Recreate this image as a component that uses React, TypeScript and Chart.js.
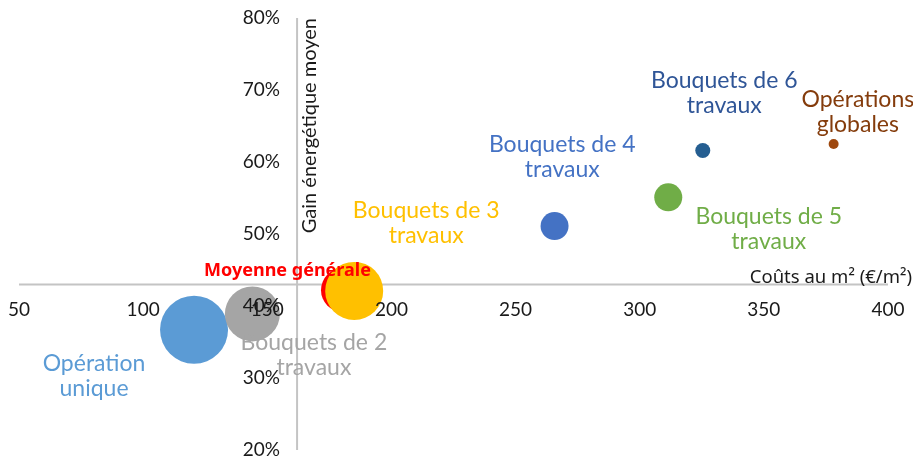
import React, { useEffect, useRef } from 'react';
import { Chart, registerables } from 'chart.js';

Chart.register(...registerables);

// ---- data ----
const categories = [
  'Opération unique',
  'Bouquets de 2 travaux',
  'Moyenne générale',
  'Bouquets de 3 travaux',
  'Bouquets de 4 travaux',
  'Bouquets de 5 travaux',
  'Bouquets de 6 travaux',
  'Opérations globales',
];
const labelLines = [
  ['Opération', 'unique'],
  ['Bouquets de 2', 'travaux'],
  ['Moyenne générale'],
  ['Bouquets de 3', 'travaux'],
  ['Bouquets de 4', 'travaux'],
  ['Bouquets de 5', 'travaux'],
  ['Bouquets de 6', 'travaux'],
  ['Opérations', 'globales'],
];
const costs = [120.5, 144, 180.5, 185, 265.7, 311.5, 325.4, 378.1];
const gains = [36.7, 38.9, 42.2, 42.1, 51.1, 55.1, 61.6, 62.5];
const bubbleSizes = [34, 27.5, 22, 29, 14, 14, 7.5, 5];
const xTicks = [50, 100, 150, 200, 250, 300, 350, 400];
const yTicks = [20, 30, 40, 50, 60, 70, 80];
const xTitle = 'Coûts au m² (€/m²)';
const yTitle = 'Gain énergétique moyen';
const xCross = 162;
const yCross = 43;

// ---- styles ----
const bubbleColors = ['#5b9bd5', '#a5a5a5', '#ff0000', '#ffc000', '#4472c4', '#70ad47', '#255e91', '#9e480e'];
const textColors = ['#5b9bd5', '#a5a5a5', '#ff0000', '#ffc000', '#4472c4', '#70ad47', '#2f5597', '#843c0c'];
const labelOffsets = [
  [-100, 46],
  [61.5, 41],
  [-55.5, -19.5],
  [72, -67.6],
  [7.7, -69.2],
  [100.5, 32],
  [21.5, -57],
  [24.2, -31.6],
];
const labelBold = [false, false, true, false, false, false, false, false];

const overlay = {
  id: 'overlay',
  beforeDatasetsDraw(chart: any) {
    const { ctx, chartArea } = chart;
    const x = chart.scales.x;
    const y = chart.scales.y;
    const px = x.getPixelForValue(xCross);
    const py = y.getPixelForValue(yCross);
    ctx.save();
    ctx.strokeStyle = '#c4c4c4';
    ctx.lineWidth = 2;
    ctx.beginPath();
    ctx.moveTo(chartArea.left, py);
    ctx.lineTo(chartArea.right, py);
    ctx.moveTo(px, chartArea.top);
    ctx.lineTo(px, chartArea.bottom);
    ctx.stroke();

    // axis titles
    ctx.fillStyle = '#1a1a1a';
    ctx.font = '18.5px "Noto Sans"';
    ctx.textAlign = 'right';
    ctx.textBaseline = 'middle';
    ctx.fillText(xTitle, chartArea.right + 24, py - 7);

    ctx.save();
    ctx.translate(px + 12, chartArea.top);
    ctx.rotate(-Math.PI / 2);
    ctx.font = '20px Lato';
    ctx.textAlign = 'right';
    ctx.textBaseline = 'middle';
    ctx.fillText(yTitle, 0, 0);
    ctx.restore();
    ctx.restore();
  },
  afterDatasetsDraw(chart: any) {
    const { ctx } = chart;
    const x = chart.scales.x;
    const y = chart.scales.y;
    const px = x.getPixelForValue(xCross);
    const py = y.getPixelForValue(yCross);
    ctx.save();
    // tick labels
    ctx.fillStyle = '#1a1a1a';
    ctx.font = '19px Lato';
    ctx.textAlign = 'center';
    ctx.textBaseline = 'middle';
    xTicks.forEach((v) => {
      ctx.fillText(String(v), x.getPixelForValue(v), py + 25);
    });
    ctx.textAlign = 'right';
    yTicks.forEach((v) => {
      ctx.fillText(v + '%', px - 17, y.getPixelForValue(v));
    });

    // data labels
    const meta = chart.getDatasetMeta(0);
    meta.data.forEach((el: any, i: number) => {
      const lines = labelLines[i];
      const cx = el.x + labelOffsets[i][0];
      const cy = el.y + labelOffsets[i][1];
      const lh = 25;
      ctx.fillStyle = textColors[i];
      ctx.font = labelBold[i] ? 'bold 18px "Noto Sans"' : '23px Lato';
      ctx.textAlign = 'center';
      ctx.textBaseline = 'middle';
      lines.forEach((t, j) => {
        ctx.fillText(t, cx, cy + (j - (lines.length - 1) / 2) * lh);
      });
    });
    ctx.restore();
  },
};

export default function App() {
  const ref = useRef<HTMLCanvasElement>(null);
  useEffect(() => {
    if (!ref.current) return;
    const chart = new Chart(ref.current, {
      type: 'bubble',
      data: {
        labels: categories,
        datasets: [
          {
            label: 'Opérations',
            data: costs.map((c, i) => ({ x: c, y: gains[i], r: bubbleSizes[i] })),
            backgroundColor: bubbleColors,
            borderWidth: 0,
            hoverRadius: 0,
            hoverBorderWidth: 0,
            clip: false,
          },
        ],
      },
      options: {
        responsive: false,
        animation: false,
        events: [],
        layout: { autoPadding: false, padding: { left: 19, right: 25, top: 18, bottom: 11 } },
        plugins: { legend: { display: false }, tooltip: { enabled: false } },
        scales: {
          x: { type: 'linear', min: 50, max: 400, display: false },
          y: { type: 'linear', min: 20, max: 80, display: false },
        },
      },
      plugins: [overlay],
    });
    return () => chart.destroy();
  }, []);
  return (
    <div style={{ position: 'absolute', left: 0, top: 0, width: 913, height: 461, background: '#fff' }}>
      <canvas ref={ref} width={913} height={461} style={{ display: 'block' }} />
    </div>
  );
}
